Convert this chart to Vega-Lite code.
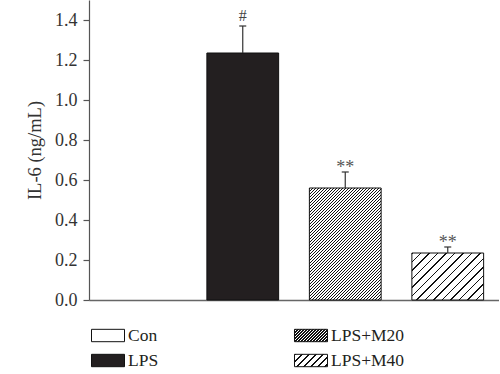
{
"$schema": "https://vega.github.io/schema/vega-lite/v6.json",
"background": "white",
"padding": {"left": 25, "top": 0, "right": 0, "bottom": 0},
"autosize": {"type": "pad"},
"bounds": "flush",
"spacing": 25,
"config": {"view": {"stroke": null}, "font": "Liberation Serif"},
"datasets": {"bars": [
{"group": "Con", "value": 0, "upper": null, "sig": null},
{"group": "LPS", "value": 1.235, "upper": 1.37, "sig": "#"},
{"group": "LPS+M20", "value": 0.56, "upper": 0.64, "sig": "**"},
{"group": "LPS+M40", "value": 0.235, "upper": 0.265, "sig": "**"}
]},
"vconcat": [
{
"width": 410,
"height": 300,
"data": {"name": "bars"},
"encoding": {
"x": {"field": "group", "type": "nominal", "scale": {"domain": ["Con", "LPS", "LPS+M20", "LPS+M40"], "paddingInner": 0.3, "paddingOuter": 0.15}, "axis": {"labels": false, "ticks": false, "title": null, "domainColor": "#666", "domainWidth": 1.5}}
},
"layer": [
{"transform": [{"filter": "datum.group === 'LPS'"}],
"mark": {"type": "bar", "fill": "#231f20", "stroke": "#111", "strokeWidth": 1},
"encoding": {
"y": {"field": "value", "type": "quantitative", "title": "IL-6 (ng/mL)", "scale": {"domain": [0, 1.5], "nice": false},
"axis": {"values": [0, 0.2, 0.4, 0.6, 0.8, 1, 1.2, 1.4], "format": ".1f", "grid": false, "domainColor": "#555", "domainWidth": 1.2, "tickColor": "#555", "tickWidth": 1.2, "tickSize": 6, "labelPadding": 6, "labelFontSize": 18, "labelColor": "#333", "labelFont": "Liberation Serif", "titleFont": "Liberation Serif", "titleFontSize": 18.5, "titleFontWeight": "normal", "titleColor": "#333", "titlePadding": 10}}
}},
{"transform": [{"filter": "datum.group === 'LPS+M20'"}],
"mark": {"type": "bar", "stroke": "#111", "strokeWidth": 1, "fill": {"gradient": "linear", "x1": 0, "y1": 0, "x2": 1.2167, "y2": 1.8992, "stops": [
{"offset":0,"color":"#111"},{"offset":0.0045,"color":"#111"},{"offset":0.0045,"color":"#fff"},{"offset":0.01,"color":"#fff"},
{"offset":0.01,"color":"#111"},{"offset":0.0145,"color":"#111"},{"offset":0.0145,"color":"#fff"},{"offset":0.02,"color":"#fff"},
{"offset":0.02,"color":"#111"},{"offset":0.0245,"color":"#111"},{"offset":0.0245,"color":"#fff"},{"offset":0.03,"color":"#fff"},
{"offset":0.03,"color":"#111"},{"offset":0.0345,"color":"#111"},{"offset":0.0345,"color":"#fff"},{"offset":0.04,"color":"#fff"},
{"offset":0.04,"color":"#111"},{"offset":0.0445,"color":"#111"},{"offset":0.0445,"color":"#fff"},{"offset":0.05,"color":"#fff"},
{"offset":0.05,"color":"#111"},{"offset":0.0545,"color":"#111"},{"offset":0.0545,"color":"#fff"},{"offset":0.06,"color":"#fff"},
{"offset":0.06,"color":"#111"},{"offset":0.0645,"color":"#111"},{"offset":0.0645,"color":"#fff"},{"offset":0.07,"color":"#fff"},
{"offset":0.07,"color":"#111"},{"offset":0.0745,"color":"#111"},{"offset":0.0745,"color":"#fff"},{"offset":0.08,"color":"#fff"},
{"offset":0.08,"color":"#111"},{"offset":0.0845,"color":"#111"},{"offset":0.0845,"color":"#fff"},{"offset":0.09,"color":"#fff"},
{"offset":0.09,"color":"#111"},{"offset":0.0945,"color":"#111"},{"offset":0.0945,"color":"#fff"},{"offset":0.1,"color":"#fff"},
{"offset":0.1,"color":"#111"},{"offset":0.1045,"color":"#111"},{"offset":0.1045,"color":"#fff"},{"offset":0.11,"color":"#fff"},
{"offset":0.11,"color":"#111"},{"offset":0.1145,"color":"#111"},{"offset":0.1145,"color":"#fff"},{"offset":0.12,"color":"#fff"},
{"offset":0.12,"color":"#111"},{"offset":0.1245,"color":"#111"},{"offset":0.1245,"color":"#fff"},{"offset":0.13,"color":"#fff"},
{"offset":0.13,"color":"#111"},{"offset":0.1345,"color":"#111"},{"offset":0.1345,"color":"#fff"},{"offset":0.14,"color":"#fff"},
{"offset":0.14,"color":"#111"},{"offset":0.1445,"color":"#111"},{"offset":0.1445,"color":"#fff"},{"offset":0.15,"color":"#fff"},
{"offset":0.15,"color":"#111"},{"offset":0.1545,"color":"#111"},{"offset":0.1545,"color":"#fff"},{"offset":0.16,"color":"#fff"},
{"offset":0.16,"color":"#111"},{"offset":0.1645,"color":"#111"},{"offset":0.1645,"color":"#fff"},{"offset":0.17,"color":"#fff"},
{"offset":0.17,"color":"#111"},{"offset":0.1745,"color":"#111"},{"offset":0.1745,"color":"#fff"},{"offset":0.18,"color":"#fff"},
{"offset":0.18,"color":"#111"},{"offset":0.1845,"color":"#111"},{"offset":0.1845,"color":"#fff"},{"offset":0.19,"color":"#fff"},
{"offset":0.19,"color":"#111"},{"offset":0.1945,"color":"#111"},{"offset":0.1945,"color":"#fff"},{"offset":0.2,"color":"#fff"},
{"offset":0.2,"color":"#111"},{"offset":0.2045,"color":"#111"},{"offset":0.2045,"color":"#fff"},{"offset":0.21,"color":"#fff"},
{"offset":0.21,"color":"#111"},{"offset":0.2145,"color":"#111"},{"offset":0.2145,"color":"#fff"},{"offset":0.22,"color":"#fff"},
{"offset":0.22,"color":"#111"},{"offset":0.2245,"color":"#111"},{"offset":0.2245,"color":"#fff"},{"offset":0.23,"color":"#fff"},
{"offset":0.23,"color":"#111"},{"offset":0.2345,"color":"#111"},{"offset":0.2345,"color":"#fff"},{"offset":0.24,"color":"#fff"},
{"offset":0.24,"color":"#111"},{"offset":0.2445,"color":"#111"},{"offset":0.2445,"color":"#fff"},{"offset":0.25,"color":"#fff"},
{"offset":0.25,"color":"#111"},{"offset":0.2545,"color":"#111"},{"offset":0.2545,"color":"#fff"},{"offset":0.26,"color":"#fff"},
{"offset":0.26,"color":"#111"},{"offset":0.2645,"color":"#111"},{"offset":0.2645,"color":"#fff"},{"offset":0.27,"color":"#fff"},
{"offset":0.27,"color":"#111"},{"offset":0.2745,"color":"#111"},{"offset":0.2745,"color":"#fff"},{"offset":0.28,"color":"#fff"},
{"offset":0.28,"color":"#111"},{"offset":0.2845,"color":"#111"},{"offset":0.2845,"color":"#fff"},{"offset":0.29,"color":"#fff"},
{"offset":0.29,"color":"#111"},{"offset":0.2945,"color":"#111"},{"offset":0.2945,"color":"#fff"},{"offset":0.3,"color":"#fff"},
{"offset":0.3,"color":"#111"},{"offset":0.3045,"color":"#111"},{"offset":0.3045,"color":"#fff"},{"offset":0.31,"color":"#fff"},
{"offset":0.31,"color":"#111"},{"offset":0.3145,"color":"#111"},{"offset":0.3145,"color":"#fff"},{"offset":0.32,"color":"#fff"},
{"offset":0.32,"color":"#111"},{"offset":0.3245,"color":"#111"},{"offset":0.3245,"color":"#fff"},{"offset":0.33,"color":"#fff"},
{"offset":0.33,"color":"#111"},{"offset":0.3345,"color":"#111"},{"offset":0.3345,"color":"#fff"},{"offset":0.34,"color":"#fff"},
{"offset":0.34,"color":"#111"},{"offset":0.3445,"color":"#111"},{"offset":0.3445,"color":"#fff"},{"offset":0.35,"color":"#fff"},
{"offset":0.35,"color":"#111"},{"offset":0.3545,"color":"#111"},{"offset":0.3545,"color":"#fff"},{"offset":0.36,"color":"#fff"},
{"offset":0.36,"color":"#111"},{"offset":0.3645,"color":"#111"},{"offset":0.3645,"color":"#fff"},{"offset":0.37,"color":"#fff"},
{"offset":0.37,"color":"#111"},{"offset":0.3745,"color":"#111"},{"offset":0.3745,"color":"#fff"},{"offset":0.38,"color":"#fff"},
{"offset":0.38,"color":"#111"},{"offset":0.3845,"color":"#111"},{"offset":0.3845,"color":"#fff"},{"offset":0.39,"color":"#fff"},
{"offset":0.39,"color":"#111"},{"offset":0.3945,"color":"#111"},{"offset":0.3945,"color":"#fff"},{"offset":0.4,"color":"#fff"},
{"offset":0.4,"color":"#111"},{"offset":0.4045,"color":"#111"},{"offset":0.4045,"color":"#fff"},{"offset":0.41,"color":"#fff"},
{"offset":0.41,"color":"#111"},{"offset":0.4145,"color":"#111"},{"offset":0.4145,"color":"#fff"},{"offset":0.42,"color":"#fff"},
{"offset":0.42,"color":"#111"},{"offset":0.4245,"color":"#111"},{"offset":0.4245,"color":"#fff"},{"offset":0.43,"color":"#fff"},
{"offset":0.43,"color":"#111"},{"offset":0.4345,"color":"#111"},{"offset":0.4345,"color":"#fff"},{"offset":0.44,"color":"#fff"},
{"offset":0.44,"color":"#111"},{"offset":0.4445,"color":"#111"},{"offset":0.4445,"color":"#fff"},{"offset":0.45,"color":"#fff"},
{"offset":0.45,"color":"#111"},{"offset":0.4545,"color":"#111"},{"offset":0.4545,"color":"#fff"},{"offset":0.46,"color":"#fff"},
{"offset":0.46,"color":"#111"},{"offset":0.4645,"color":"#111"},{"offset":0.4645,"color":"#fff"},{"offset":0.47,"color":"#fff"},
{"offset":0.47,"color":"#111"},{"offset":0.4745,"color":"#111"},{"offset":0.4745,"color":"#fff"},{"offset":0.48,"color":"#fff"},
{"offset":0.48,"color":"#111"},{"offset":0.4845,"color":"#111"},{"offset":0.4845,"color":"#fff"},{"offset":0.49,"color":"#fff"},
{"offset":0.49,"color":"#111"},{"offset":0.4945,"color":"#111"},{"offset":0.4945,"color":"#fff"},{"offset":0.5,"color":"#fff"},
{"offset":0.5,"color":"#111"},{"offset":0.5045,"color":"#111"},{"offset":0.5045,"color":"#fff"},{"offset":0.51,"color":"#fff"},
{"offset":0.51,"color":"#111"},{"offset":0.5145,"color":"#111"},{"offset":0.5145,"color":"#fff"},{"offset":0.52,"color":"#fff"},
{"offset":0.52,"color":"#111"},{"offset":0.5245,"color":"#111"},{"offset":0.5245,"color":"#fff"},{"offset":0.53,"color":"#fff"},
{"offset":0.53,"color":"#111"},{"offset":0.5345,"color":"#111"},{"offset":0.5345,"color":"#fff"},{"offset":0.54,"color":"#fff"},
{"offset":0.54,"color":"#111"},{"offset":0.5445,"color":"#111"},{"offset":0.5445,"color":"#fff"},{"offset":0.55,"color":"#fff"},
{"offset":0.55,"color":"#111"},{"offset":0.5545,"color":"#111"},{"offset":0.5545,"color":"#fff"},{"offset":0.56,"color":"#fff"},
{"offset":0.56,"color":"#111"},{"offset":0.5645,"color":"#111"},{"offset":0.5645,"color":"#fff"},{"offset":0.57,"color":"#fff"},
{"offset":0.57,"color":"#111"},{"offset":0.5745,"color":"#111"},{"offset":0.5745,"color":"#fff"},{"offset":0.58,"color":"#fff"},
{"offset":0.58,"color":"#111"},{"offset":0.5845,"color":"#111"},{"offset":0.5845,"color":"#fff"},{"offset":0.59,"color":"#fff"},
{"offset":0.59,"color":"#111"},{"offset":0.5945,"color":"#111"},{"offset":0.5945,"color":"#fff"},{"offset":0.6,"color":"#fff"},
{"offset":0.6,"color":"#111"},{"offset":0.6045,"color":"#111"},{"offset":0.6045,"color":"#fff"},{"offset":0.61,"color":"#fff"},
{"offset":0.61,"color":"#111"},{"offset":0.6145,"color":"#111"},{"offset":0.6145,"color":"#fff"},{"offset":0.62,"color":"#fff"}
]}},
"encoding": {"y": {"field": "value", "type": "quantitative", "title": "IL-6 (ng/mL)"}}
},
{"transform": [{"filter": "datum.group === 'LPS+M40'"}],
"mark": {"type": "bar", "stroke": "#111", "strokeWidth": 1, "fill": {"gradient": "linear", "x1": 0, "y1": 0, "x2": 1.6579, "y2": 1.086, "stops": [
{"offset":0,"color":"#111"},{"offset":0.0085,"color":"#111"},{"offset":0.0085,"color":"#fff"},{"offset":0.05,"color":"#fff"},
{"offset":0.05,"color":"#111"},{"offset":0.0585,"color":"#111"},{"offset":0.0585,"color":"#fff"},{"offset":0.1,"color":"#fff"},
{"offset":0.1,"color":"#111"},{"offset":0.1085,"color":"#111"},{"offset":0.1085,"color":"#fff"},{"offset":0.15,"color":"#fff"},
{"offset":0.15,"color":"#111"},{"offset":0.1585,"color":"#111"},{"offset":0.1585,"color":"#fff"},{"offset":0.2,"color":"#fff"},
{"offset":0.2,"color":"#111"},{"offset":0.2085,"color":"#111"},{"offset":0.2085,"color":"#fff"},{"offset":0.25,"color":"#fff"},
{"offset":0.25,"color":"#111"},{"offset":0.2585,"color":"#111"},{"offset":0.2585,"color":"#fff"},{"offset":0.3,"color":"#fff"},
{"offset":0.3,"color":"#111"},{"offset":0.3085,"color":"#111"},{"offset":0.3085,"color":"#fff"},{"offset":0.35,"color":"#fff"},
{"offset":0.35,"color":"#111"},{"offset":0.3585,"color":"#111"},{"offset":0.3585,"color":"#fff"},{"offset":0.4,"color":"#fff"},
{"offset":0.4,"color":"#111"},{"offset":0.4085,"color":"#111"},{"offset":0.4085,"color":"#fff"},{"offset":0.45,"color":"#fff"},
{"offset":0.45,"color":"#111"},{"offset":0.4585,"color":"#111"},{"offset":0.4585,"color":"#fff"},{"offset":0.5,"color":"#fff"},
{"offset":0.5,"color":"#111"},{"offset":0.5085,"color":"#111"},{"offset":0.5085,"color":"#fff"},{"offset":0.55,"color":"#fff"},
{"offset":0.55,"color":"#111"},{"offset":0.5585,"color":"#111"},{"offset":0.5585,"color":"#fff"},{"offset":0.6,"color":"#fff"},
{"offset":0.6,"color":"#111"},{"offset":0.6085,"color":"#111"},{"offset":0.6085,"color":"#fff"},{"offset":0.65,"color":"#fff"},
{"offset":0.65,"color":"#111"},{"offset":0.6585,"color":"#111"},{"offset":0.6585,"color":"#fff"},{"offset":0.7,"color":"#fff"}
]}},
"encoding": {"y": {"field": "value", "type": "quantitative", "title": "IL-6 (ng/mL)"}}
},
{"transform": [{"filter": "datum.upper != null"}],
"mark": {"type": "rule", "color": "#333", "strokeWidth": 1.2},
"encoding": {"y": {"field": "value", "type": "quantitative", "title": "IL-6 (ng/mL)"}, "y2": {"field": "upper"}}
},
{"transform": [{"filter": "datum.upper != null"}],
"mark": {"type": "tick", "color": "#333", "size": 7, "thickness": 1.2, "opacity": 1},
"encoding": {"y": {"field": "upper", "type": "quantitative", "title": "IL-6 (ng/mL)"}}
},
{"transform": [{"filter": "datum.sig === '#'"}],
"mark": {"type": "text", "baseline": "alphabetic", "dy": -5, "fontSize": 16, "color": "#444", "font": "Liberation Serif"},
"encoding": {"y": {"field": "upper", "type": "quantitative", "title": "IL-6 (ng/mL)"}, "text": {"field": "sig"}}
},
{"transform": [{"filter": "datum.sig === '**'"}],
"mark": {"type": "text", "baseline": "alphabetic", "dy": 1, "fontSize": 18, "color": "#555", "font": "Liberation Serif"},
"encoding": {"y": {"field": "upper", "type": "quantitative", "title": "IL-6 (ng/mL)"}, "text": {"field": "sig"}}
}
]
},
{
"width": 241,
"height": 46,
"data": {"name": "bars"},
"layer": [
{"transform": [{"filter": "datum.group === 'Con'"}],
"mark": {"type": "point", "shape": "M-1,-0.375H1V0.375H-1Z", "size": 1089, "filled": true, "fill": "#ffffff", "stroke": "#111", "strokeWidth": 1, "opacity": 1},
"encoding": {"x": {"datum": "c1", "type": "nominal", "scale": {"type": "point", "domain": ["c1", "c2"], "padding": 0.0936}, "axis": null}, "y": {"datum": "r1", "type": "nominal", "scale": {"type": "point", "domain": ["r1", "r2"], "padding": 0.42}, "axis": null}}
},
{"transform": [{"filter": "datum.group === 'LPS'"}],
"mark": {"type": "point", "shape": "M-1,-0.375H1V0.375H-1Z", "size": 1089, "filled": true, "fill": "#231f20", "stroke": "#111", "strokeWidth": 1, "opacity": 1},
"encoding": {"x": {"datum": "c1", "type": "nominal"}, "y": {"datum": "r2", "type": "nominal"}}
},
{"transform": [{"filter": "datum.group === 'LPS+M20'"}],
"mark": {"type": "point", "shape": "M-1,-0.375H1V0.375H-1Z", "size": 1089, "filled": true, "stroke": "#111", "strokeWidth": 1, "opacity": 1, "fill": {"gradient": "linear", "x1": 0, "y1": 0, "x2": 7.966, "y2": 2.993, "stops": [
{"offset":0,"color":"#111"},{"offset":0.0045,"color":"#111"},{"offset":0.0045,"color":"#fff"},{"offset":0.01,"color":"#fff"},
{"offset":0.01,"color":"#111"},{"offset":0.0145,"color":"#111"},{"offset":0.0145,"color":"#fff"},{"offset":0.02,"color":"#fff"},
{"offset":0.02,"color":"#111"},{"offset":0.0245,"color":"#111"},{"offset":0.0245,"color":"#fff"},{"offset":0.03,"color":"#fff"},
{"offset":0.03,"color":"#111"},{"offset":0.0345,"color":"#111"},{"offset":0.0345,"color":"#fff"},{"offset":0.04,"color":"#fff"},
{"offset":0.04,"color":"#111"},{"offset":0.0445,"color":"#111"},{"offset":0.0445,"color":"#fff"},{"offset":0.05,"color":"#fff"},
{"offset":0.05,"color":"#111"},{"offset":0.0545,"color":"#111"},{"offset":0.0545,"color":"#fff"},{"offset":0.06,"color":"#fff"},
{"offset":0.06,"color":"#111"},{"offset":0.0645,"color":"#111"},{"offset":0.0645,"color":"#fff"},{"offset":0.07,"color":"#fff"},
{"offset":0.07,"color":"#111"},{"offset":0.0745,"color":"#111"},{"offset":0.0745,"color":"#fff"},{"offset":0.08,"color":"#fff"},
{"offset":0.08,"color":"#111"},{"offset":0.0845,"color":"#111"},{"offset":0.0845,"color":"#fff"},{"offset":0.09,"color":"#fff"},
{"offset":0.09,"color":"#111"},{"offset":0.0945,"color":"#111"},{"offset":0.0945,"color":"#fff"},{"offset":0.1,"color":"#fff"},
{"offset":0.1,"color":"#111"},{"offset":0.1045,"color":"#111"},{"offset":0.1045,"color":"#fff"},{"offset":0.11,"color":"#fff"},
{"offset":0.11,"color":"#111"},{"offset":0.1145,"color":"#111"},{"offset":0.1145,"color":"#fff"},{"offset":0.12,"color":"#fff"},
{"offset":0.12,"color":"#111"},{"offset":0.1245,"color":"#111"},{"offset":0.1245,"color":"#fff"},{"offset":0.13,"color":"#fff"},
{"offset":0.13,"color":"#111"},{"offset":0.1345,"color":"#111"},{"offset":0.1345,"color":"#fff"},{"offset":0.14,"color":"#fff"},
{"offset":0.14,"color":"#111"},{"offset":0.1445,"color":"#111"},{"offset":0.1445,"color":"#fff"},{"offset":0.15,"color":"#fff"},
{"offset":0.15,"color":"#111"},{"offset":0.1545,"color":"#111"},{"offset":0.1545,"color":"#fff"},{"offset":0.16,"color":"#fff"}
]}},
"encoding": {"x": {"datum": "c2", "type": "nominal"}, "y": {"datum": "r1", "type": "nominal"}}
},
{"transform": [{"filter": "datum.group === 'LPS+M40'"}],
"mark": {"type": "point", "shape": "M-1,-0.375H1V0.375H-1Z", "size": 1089, "filled": true, "stroke": "#111", "strokeWidth": 1, "opacity": 1, "fill": {"gradient": "linear", "x1": 0, "y1": 0, "x2": 3.7175, "y2": 1.3969, "stops": [
{"offset":0,"color":"#111"},{"offset":0.01,"color":"#111"},{"offset":0.01,"color":"#fff"},{"offset":0.05,"color":"#fff"},
{"offset":0.05,"color":"#111"},{"offset":0.06,"color":"#111"},{"offset":0.06,"color":"#fff"},{"offset":0.1,"color":"#fff"},
{"offset":0.1,"color":"#111"},{"offset":0.11,"color":"#111"},{"offset":0.11,"color":"#fff"},{"offset":0.15,"color":"#fff"},
{"offset":0.15,"color":"#111"},{"offset":0.16,"color":"#111"},{"offset":0.16,"color":"#fff"},{"offset":0.2,"color":"#fff"},
{"offset":0.2,"color":"#111"},{"offset":0.21,"color":"#111"},{"offset":0.21,"color":"#fff"},{"offset":0.25,"color":"#fff"},
{"offset":0.25,"color":"#111"},{"offset":0.26,"color":"#111"},{"offset":0.26,"color":"#fff"},{"offset":0.3,"color":"#fff"},
{"offset":0.3,"color":"#111"},{"offset":0.31,"color":"#111"},{"offset":0.31,"color":"#fff"},{"offset":0.35,"color":"#fff"}
]}},
"encoding": {"x": {"datum": "c2", "type": "nominal"}, "y": {"datum": "r2", "type": "nominal"}}
},
{"transform": [{"filter": "datum.group === 'Con'"}],
"mark": {"type": "text", "align": "left", "baseline": "middle", "dx": 20, "fontSize": 17.5, "color": "#231f20", "font": "Liberation Serif"},
"encoding": {"x": {"datum": "c1", "type": "nominal"}, "y": {"datum": "r1", "type": "nominal"}, "text": {"field": "group"}}
},
{"transform": [{"filter": "datum.group === 'LPS'"}],
"mark": {"type": "text", "align": "left", "baseline": "middle", "dx": 20, "fontSize": 17.5, "color": "#231f20", "font": "Liberation Serif"},
"encoding": {"x": {"datum": "c1", "type": "nominal"}, "y": {"datum": "r2", "type": "nominal"}, "text": {"field": "group"}}
},
{"transform": [{"filter": "datum.group === 'LPS+M20'"}],
"mark": {"type": "text", "align": "left", "baseline": "middle", "dx": 20, "fontSize": 17.5, "color": "#231f20", "font": "Liberation Serif"},
"encoding": {"x": {"datum": "c2", "type": "nominal"}, "y": {"datum": "r1", "type": "nominal"}, "text": {"field": "group"}}
},
{"transform": [{"filter": "datum.group === 'LPS+M40'"}],
"mark": {"type": "text", "align": "left", "baseline": "middle", "dx": 20, "fontSize": 17.5, "color": "#231f20", "font": "Liberation Serif"},
"encoding": {"x": {"datum": "c2", "type": "nominal"}, "y": {"datum": "r2", "type": "nominal"}, "text": {"field": "group"}}
}
]
}
]
}
